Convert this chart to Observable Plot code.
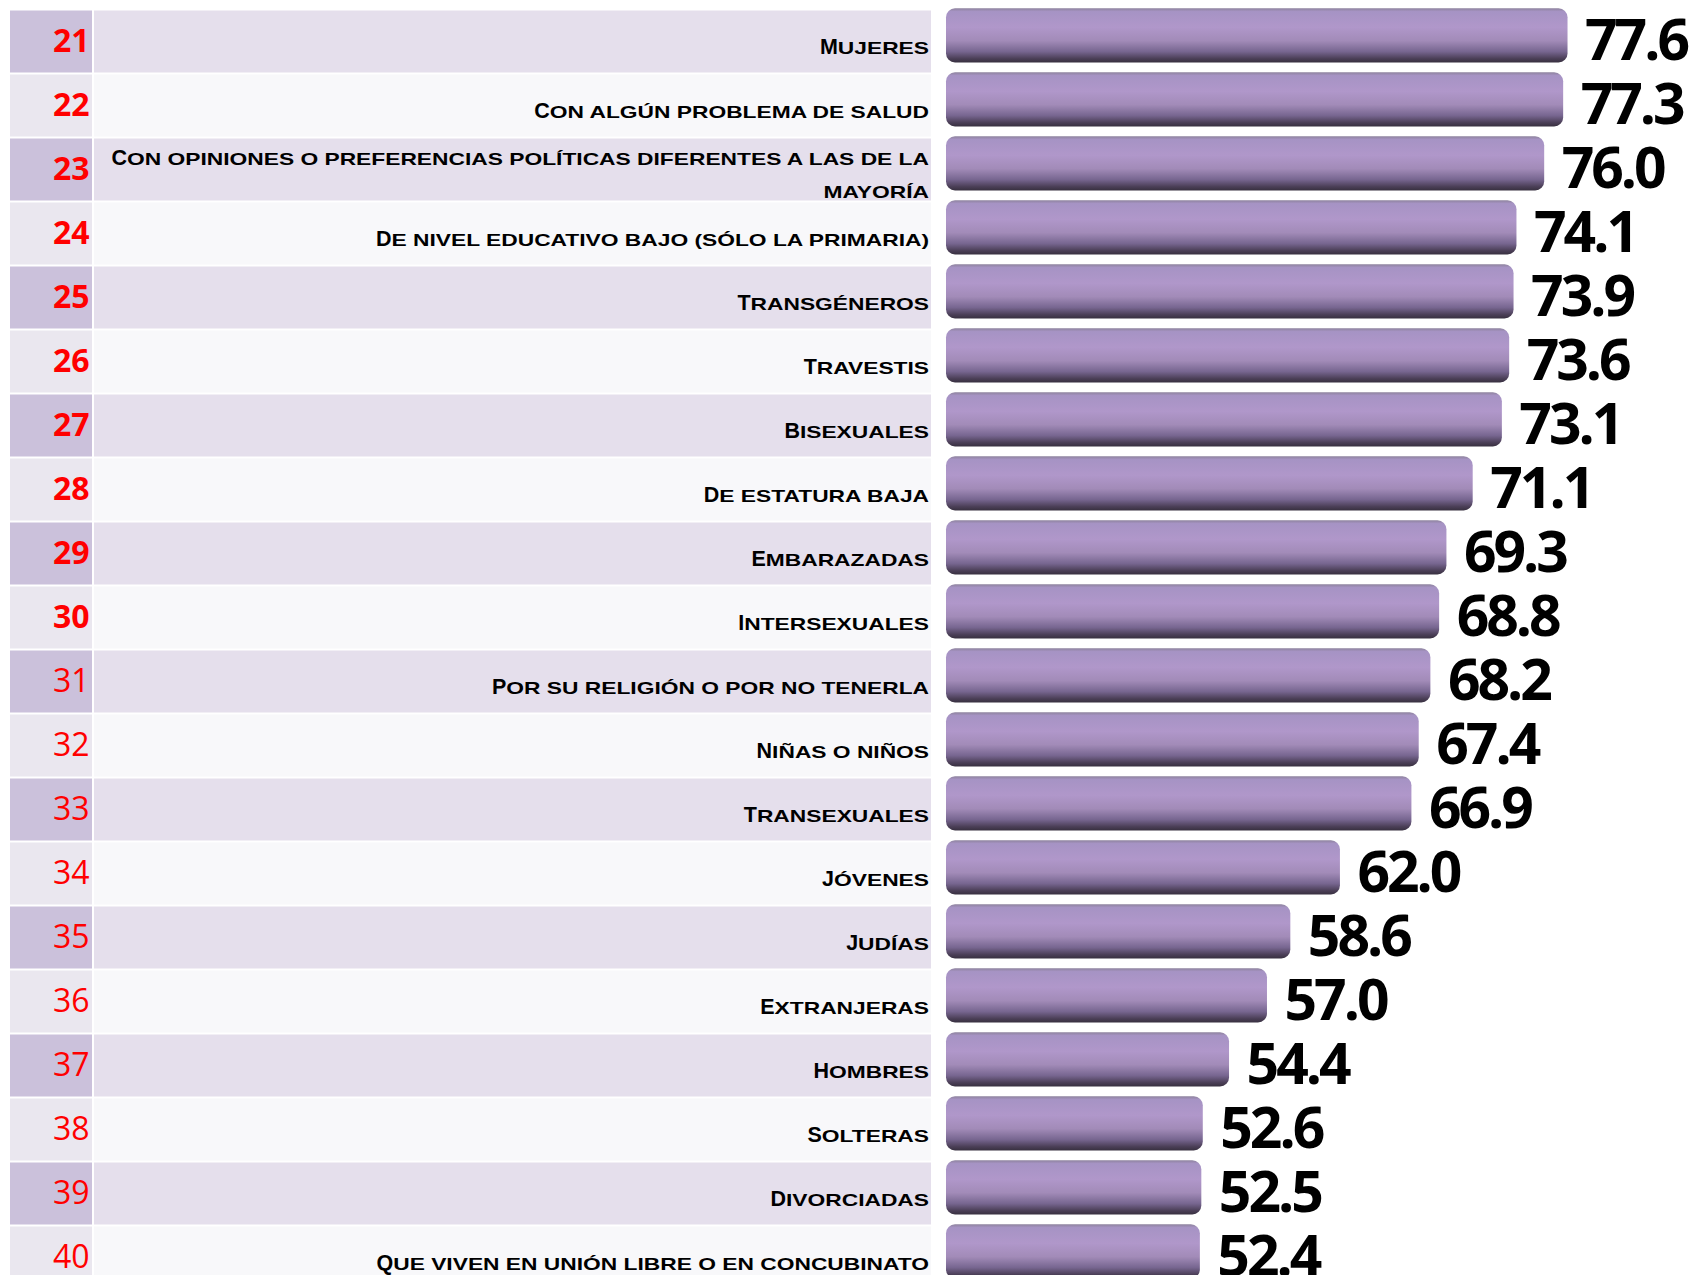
<!DOCTYPE html>
<html>
<head>
<meta charset="utf-8">
<script src="https://cdn.jsdelivr.net/npm/d3@7"></script>
<script src="https://cdn.jsdelivr.net/npm/@observablehq/plot@0.6"></script>
<style>
  html, body { margin: 0; padding: 0; background: #ffffff; overflow: hidden; }
</style>
</head>
<body>
<div id="chart"></div>
<script>
// ---- data ----
const ranks = [21, 22, 23, 24, 25, 26, 27, 28, 29, 30, 31, 32, 33, 34, 35, 36, 37, 38, 39, 40];
const groups = [
  "Mujeres",
  "Con algún problema de salud",
  "Con opiniones o preferencias políticas diferentes a las de la\nmayoría",
  "De nivel educativo bajo (sólo la primaria)",
  "Transgéneros",
  "Travestis",
  "Bisexuales",
  "De estatura baja",
  "Embarazadas",
  "Intersexuales",
  "Por su religión o por no tenerla",
  "Niñas o niños",
  "Transexuales",
  "Jóvenes",
  "Judías",
  "Extranjeras",
  "Hombres",
  "Solteras",
  "Divorciadas",
  "Que viven en unión libre o en concubinato"
];
const values = [77.6, 77.3, 76.0, 74.1, 73.9, 73.6, 73.1, 71.1, 69.3, 68.8, 68.2, 67.4, 66.9, 62.0, 58.6, 57.0, 54.4, 52.6, 52.5, 52.4];
const axisStart = 35;   // bars start here (truncated axis)
const axisEnd = 86.2;

const rows = ranks.map((rank, i) => ({rank, group: groups[i], value: values[i], i}));

// ---- layout ----
const W = 1693, H = 1275;
const frameLeft = 946;
const NS = "http://www.w3.org/2000/svg";
const LABEL_FONT = "Liberation Sans, Arial, sans-serif";
const VALUE_FONT = "Open Sans, Noto Sans, sans-serif";
const RANK_FONT = "Open Sans, sans-serif";

const gradientStops = [
  [0, "#8e839e"], [0.06, "#a693c4"], [0.35, "#b097ca"], [0.6, "#a28bb8"],
  [0.8, "#776690"], [0.93, "#4b3f57"], [1, "#383040"]
];

const svg = Plot.plot({
  width: W,
  height: H,
  marginLeft: frameLeft,
  marginRight: 0,
  marginTop: 3,
  marginBottom: 0,
  x: {domain: [axisStart, axisEnd], axis: null},
  y: {domain: groups, range: [3, 1285], padding: 0, axis: null},
  color: {type: "identity"},
  style: {background: "#ffffff", overflow: "hidden"},
  marks: [
    () => {
      const defs = d3.create("svg:defs");
      const g = defs.append("linearGradient").attr("id", "barGrad")
        .attr("x1", 0).attr("y1", 0).attr("x2", 0).attr("y2", 1);
      gradientStops.forEach(([o, c]) => g.append("stop").attr("offset", o).attr("stop-color", c));
      return defs.node();
    },
    // rank column cells
    Plot.cell(rows, {
      y: "group",
      fill: d => d.i % 2 ? "#eae7ef" : "#cbc1db",
      insetLeft: 10 - frameLeft, insetRight: W - 92, insetBottom: 2, dy: 6.5
    }),
    // label column cells
    Plot.cell(rows, {
      y: "group",
      fill: d => d.i % 2 ? "#f8f8fa" : "#e5dfec",
      insetLeft: 94 - frameLeft, insetRight: W - 931, insetBottom: 2, dy: 6.5
    }),
    // bars
    Plot.barX(rows, {
      y: "group", x1: axisStart, x2: "value",
      fill: "url(#barGrad)", insetTop: 4.3, insetBottom: 5.6, rx: 9
    }),
    // rank numbers
    Plot.text(rows.filter(d => d.rank <= 30), {
      y: "group", text: d => String(d.rank), frameAnchor: "left",
      dx: 89 - frameLeft, dy: 5, textAnchor: "end",
      fill: "#ff0000", fontSize: 32, fontWeight: "bold", fontFamily: RANK_FONT
    }),
    Plot.text(rows.filter(d => d.rank > 30), {
      y: "group", text: d => String(d.rank), frameAnchor: "left",
      dx: 89 - frameLeft, dy: 5, textAnchor: "end",
      fill: "#ff0000", fontSize: 32, fontWeight: "normal", fontFamily: RANK_FONT
    }),
    // group labels
    Plot.text(rows, {
      y: "group", text: "group", frameAnchor: "left",
      dx: -17.5, dy: 6.5, textAnchor: "end", lineHeight: 1.95,
      fill: "#000000", fontSize: 17, fontWeight: "bold",
      fontFamily: LABEL_FONT
    }),
    // values
    Plot.text(rows, {
      x: "value", y: "group", text: d => d.value.toFixed(1),
      dx: 17, dy: 5, textAnchor: "start",
      fill: "#000000", fontSize: 57, fontWeight: "bold",
      fontFamily: VALUE_FONT
    })
  ]
});

// small-caps styling of the group labels
d3.select(svg).selectAll("g").filter(function () {
  return this.getAttribute("font-family") === LABEL_FONT;
}).selectAll("text").each(function () {
  const el = this;
  const kids = Array.from(el.children).filter(n => n.tagName.toLowerCase() === "tspan");
  const lineNodes = kids.length ? kids : [el];
  lineNodes.forEach((node, li) => {
    const s = node.textContent;
    node.textContent = "";
    let rest = s;
    if (li === 0) {
      const b = document.createElementNS(NS, "tspan");
      b.setAttribute("font-size", 21.5);
      b.textContent = s.charAt(0).toUpperCase();
      node.appendChild(b);
      rest = s.slice(1);
    }
    const sm = document.createElementNS(NS, "tspan");
    sm.setAttribute("class", "sc");
    sm.textContent = rest.toUpperCase();
    node.appendChild(sm);
  });
});
d3.select(svg).selectAll("g").filter(function () {
  return this.getAttribute("font-family") === VALUE_FONT;
}).selectAll("text").style("letter-spacing", "-3px");

document.getElementById("chart").append(svg);

function stretch() {
  svg.querySelectorAll("tspan.sc").forEach(t => {
    const L = t.getComputedTextLength();
    if (L > 0) {
      t.setAttribute("textLength", (L * 1.34).toFixed(1));
      t.setAttribute("lengthAdjust", "spacingAndGlyphs");
    }
  });
}
if (document.fonts && document.fonts.ready) document.fonts.ready.then(stretch); else stretch();
</script>
</body>
</html>
